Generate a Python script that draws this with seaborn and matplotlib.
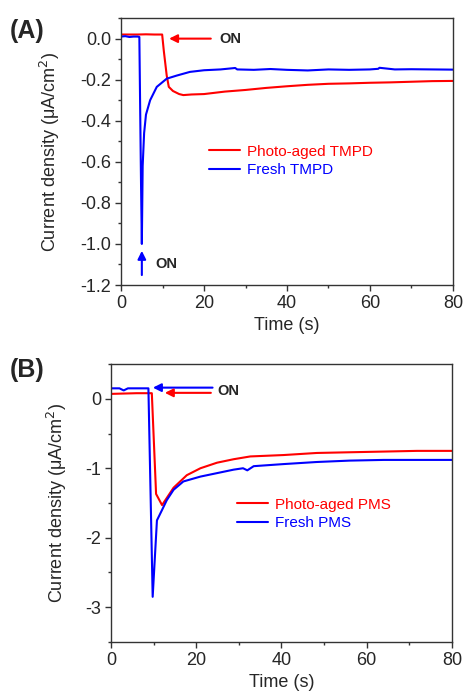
import numpy as np
import matplotlib
matplotlib.use("Agg")
import matplotlib.pyplot as plt
import seaborn as sns
from matplotlib.ticker import MultipleLocator, FormatStrFormatter

sns.set_style("ticks")
plt.rcParams["font.family"] = ["Liberation Sans", "DejaVu Sans"]
plt.rcParams["axes.unicode_minus"] = False

# ---------------------------------------------------------------
# DATA
# ---------------------------------------------------------------
# Panel A: TMPD
t_aged_tmpd = [0, 2, 4, 6, 8, 9.9, 10.3, 11.0, 11.5, 12.5, 14, 15, 17, 20, 25,
               30, 35, 40, 45, 50, 55, 60, 65, 70, 75, 80]
j_aged_tmpd = [0.02, 0.02, 0.02, 0.021, 0.02, 0.02, -0.06, -0.18, -0.235, -0.255, -0.27,
               -0.275, -0.272, -0.27, -0.258, -0.25, -0.24, -0.232, -0.225, -0.22,
               -0.218, -0.215, -0.213, -0.21, -0.207, -0.206]

t_fresh_tmpd = [0, 1, 2, 3, 4, 4.4, 4.8, 5.0, 5.2, 5.55, 6.0, 7.0, 8.6, 11, 13.4,
                16.6, 20, 24, 27.5, 28, 32, 36, 40, 45, 50, 55, 60, 62, 62.3, 66,
                70, 75, 80]
j_fresh_tmpd = [0.01, 0.012, 0.008, 0.01, 0.01, 0.008, -0.7, -1.0, -0.62, -0.46,
                -0.37, -0.30, -0.235, -0.195, -0.18, -0.162, -0.154, -0.15, -0.143,
                -0.15, -0.152, -0.148, -0.152, -0.155, -0.15, -0.152, -0.15, -0.147,
                -0.142, -0.15, -0.149, -0.15, -0.151]

# Panel B: PMS
t_aged_pms = [0, 3, 6, 9.6, 10.6, 12, 14.7, 17.8, 21, 24.9, 28.8, 32.7, 40.5,
              48.3, 56, 64, 71.8, 80]
j_aged_pms = [0.07, 0.075, 0.08, 0.08, -1.37, -1.53, -1.28, -1.10, -1.0, -0.92,
              -0.87, -0.83, -0.81, -0.78, -0.77, -0.76, -0.75, -0.75]

t_fresh_pms = [0, 2, 3, 4, 6, 8.8, 9.8, 10.8, 12, 13.1, 14.7, 17, 21, 24.9, 28.8,
               31, 32, 33.5, 40.5, 48.3, 56, 64, 80]
j_fresh_pms = [0.15, 0.15, 0.12, 0.15, 0.15, 0.15, -2.85, -1.75, -1.6, -1.46,
               -1.31, -1.19, -1.12, -1.07, -1.02, -1.0, -1.03, -0.97, -0.94, -0.91,
               -0.89, -0.88, -0.88]

RED = "#ff0000"
BLUE = "#0000ff"
YLABEL = r"Current density ($\mathregular{\mu}$A/cm$^{2}$)"

fig = plt.figure(figsize=(4.64, 6.96), dpi=100)
ax_a = fig.add_axes([0.261, 0.5905, 0.715, 0.3835])
ax_b = fig.add_axes([0.239, 0.0776, 0.735, 0.3994])


def style_axes(ax):
    for side in ["top", "right", "left", "bottom"]:
        ax.spines[side].set_visible(True)
        ax.spines[side].set_color("#333333")
        ax.spines[side].set_linewidth(1.0)
    ax.tick_params(which="major", direction="out", length=4.5, width=1,
                   labelsize=13, color="#333333", pad=2.5)
    ax.tick_params(which="minor", direction="out", length=2.5, width=1,
                   color="#333333")
    ax.set_xlim(0, 80)
    ax.xaxis.set_major_locator(MultipleLocator(20))
    ax.xaxis.set_minor_locator(MultipleLocator(10))
    ax.set_xlabel("Time (s)", fontsize=13)
    ax.set_ylabel(YLABEL, fontsize=13)


def color_legend(ax, anchor):
    leg = ax.legend(loc="center left", bbox_to_anchor=anchor, frameon=False,
                    fontsize=11, handlelength=2.0, labelspacing=0.3,
                    handletextpad=0.45)
    for txt, c in zip(leg.get_texts(), [RED, BLUE]):
        txt.set_color(c)


# ---------------------------------------------------------------
# PANEL A
# ---------------------------------------------------------------
sns.lineplot(x=t_aged_tmpd, y=j_aged_tmpd, ax=ax_a, color=RED, lw=1.5,
             label="Photo-aged TMPD")
sns.lineplot(x=t_fresh_tmpd, y=j_fresh_tmpd, ax=ax_a, color=BLUE, lw=1.5,
             label="Fresh TMPD")
style_axes(ax_a)
ax_a.set_ylim(-1.2, 0.1)
ax_a.yaxis.set_major_locator(MultipleLocator(0.2))
ax_a.yaxis.set_minor_locator(MultipleLocator(0.1))
ax_a.yaxis.set_major_formatter(FormatStrFormatter("%.1f"))
ax_a.yaxis.set_label_coords(-0.178, 0.5)

ax_a.annotate("", xy=(10.9, 0.0), xytext=(22.3, 0.0),
              arrowprops=dict(arrowstyle="-|>", color=RED, lw=1.5,
                              mutation_scale=12))
ax_a.text(23.8, 0.0, "ON", fontsize=10.5, fontweight="bold", va="center")
ax_a.annotate("", xy=(5.0, -1.02), xytext=(5.0, -1.165),
              arrowprops=dict(arrowstyle="-|>", color=BLUE, lw=1.5,
                              mutation_scale=12))
ax_a.text(8.2, -1.10, "ON", fontsize=10.5, fontweight="bold", va="center")

color_legend(ax_a, (0.225, 0.465))

# ---------------------------------------------------------------
# PANEL B
# ---------------------------------------------------------------
sns.lineplot(x=t_aged_pms, y=j_aged_pms, ax=ax_b, color=RED, lw=1.5,
             label="Photo-aged PMS")
sns.lineplot(x=t_fresh_pms, y=j_fresh_pms, ax=ax_b, color=BLUE, lw=1.5,
             label="Fresh PMS")
style_axes(ax_b)
ax_b.set_ylim(-3.5, 0.5)
ax_b.yaxis.set_major_locator(MultipleLocator(1))
ax_b.yaxis.set_minor_locator(MultipleLocator(0.5))
ax_b.yaxis.set_label_coords(-0.123, 0.5)

ax_b.annotate("", xy=(9.2, 0.16), xytext=(24.5, 0.16),
              arrowprops=dict(arrowstyle="-|>", color=BLUE, lw=1.5,
                              mutation_scale=12))
ax_b.annotate("", xy=(12.0, 0.085), xytext=(24.1, 0.085),
              arrowprops=dict(arrowstyle="-|>", color=RED, lw=1.5,
                              mutation_scale=12))
ax_b.text(25.0, 0.115, "ON", fontsize=10.5, fontweight="bold", va="center")

color_legend(ax_b, (0.33, 0.46))

fig.text(0.022, 0.955, "(A)", fontsize=18, fontweight="bold", va="center")
fig.text(0.022, 0.469, "(B)", fontsize=18, fontweight="bold", va="center")

fig.savefig("out.png", dpi=100)
